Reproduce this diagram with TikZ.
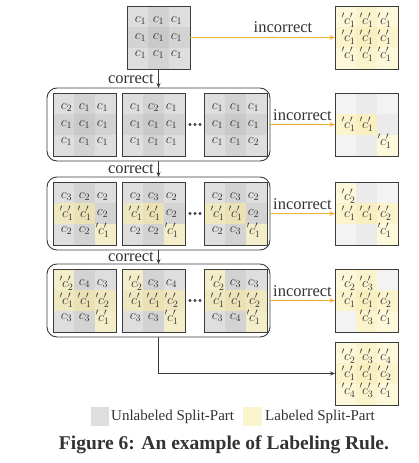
\RequirePackage{fix-cm}
\documentclass[tikz,border=0pt]{standalone}
\usepackage[no-math]{fontspec}
\setmainfont{Liberation Serif}
\usetikzlibrary{arrows.meta}
\definecolor{ga}{HTML}{D3D3D3}
\definecolor{gb}{HTML}{DEDEDE}
\definecolor{gc}{HTML}{C9C9C9}
\definecolor{yA}{HTML}{EFE7BF}
\definecolor{yB}{HTML}{F4EDCA}
\definecolor{yC}{HTML}{EAE1B5}
\definecolor{eA}{HTML}{EBEBEB}
\definecolor{eB}{HTML}{F3F3F3}
\definecolor{eC}{HTML}{E6E6E6}
\definecolor{wA}{HTML}{FBF3CC}
\definecolor{wB}{HTML}{FDF8D9}
\definecolor{wC}{HTML}{F8EEC0}
\definecolor{bordc}{HTML}{3C3C3C}
\definecolor{goldc}{HTML}{EEB22A}
\definecolor{txtc}{HTML}{333333}
% per-position colours: U unlabeled, L labeled (inner), E empty, Y labeled (result)
\colorlet{U0}{gb}\colorlet{U1}{ga}\colorlet{U2}{gb}\colorlet{U3}{ga}\colorlet{U4}{gc}\colorlet{U5}{ga}\colorlet{U6}{gb}\colorlet{U7}{ga}\colorlet{U8}{gb}
\colorlet{L0}{yB}\colorlet{L1}{yA}\colorlet{L2}{yB}\colorlet{L3}{yA}\colorlet{L4}{yC}\colorlet{L5}{yA}\colorlet{L6}{yB}\colorlet{L7}{yA}\colorlet{L8}{yB}
\colorlet{E0}{eB}\colorlet{E1}{eA}\colorlet{E2}{eB}\colorlet{E3}{eA}\colorlet{E4}{eC}\colorlet{E5}{eA}\colorlet{E6}{eB}\colorlet{E7}{eA}\colorlet{E8}{eB}
\colorlet{Y0}{wB}\colorlet{Y1}{wA}\colorlet{Y2}{wB}\colorlet{Y3}{wA}\colorlet{Y4}{wC}\colorlet{Y5}{wA}\colorlet{Y6}{wB}\colorlet{Y7}{wA}\colorlet{Y8}{wB}
\newcommand\labc[1]{{}'\mkern-1mu c'_{#1}}
\newcommand\gridbox[4]{%
  \node[boxnode] (#1) at (#2+31.5,#3+31.5) {};
  \foreach [count=\i from 0] \fl/\tx in {#4} {%
    \pgfmathtruncatemacro\rowi{\i/3}%
    \pgfmathtruncatemacro\coli{\i-3*\rowi}%
    \edef\cname{\fl\i}%
    \fill[fill=\cname] (#2+\coli*21,#3+\rowi*21) rectangle ++(21,21);
  }
  \foreach [count=\i from 0] \fl/\tx in {#4} {%
    \pgfmathtruncatemacro\rowi{\i/3}%
    \pgfmathtruncatemacro\coli{\i-3*\rowi}%
    \node[celltxt] at (#2+13.5+\coli*18,#3+14.5+\rowi*17) {$\tx$};
  }
  \draw[bd] (#1.north west) rectangle (#1.south east);
}
\begin{document}
\begin{tikzpicture}[x=1pt,y=-1pt,
  boxnode/.style={minimum size=63pt,inner sep=0pt,outer sep=0pt},
  bd/.style={draw=bordc,line width=1pt},
  grp/.style={draw=bordc,line width=0.9pt,rounded corners=10pt,inner sep=0pt,outer sep=0pt,minimum width=223pt},
  celltxt/.style={inner sep=0pt,text=txtc,font=\fontsize{14}{17}\selectfont},
  lbl/.style={inner sep=1pt,text=txtc,font=\fontsize{16.5}{19}\selectfont},
  carrow/.style={draw=bordc,line width=0.9pt,-{Stealth[length=5pt,width=4pt]}},
  iarrow/.style={draw=goldc,line width=1.5pt,-{Stealth[length=5.5pt,width=4.5pt]}}]
\useasboundingbox (0,0) rectangle (418,463);
\fill[white] (0,0) rectangle (418,463);

% groups
\node[grp,minimum height=73pt] (g1) at (158.5,124.5) {};
\node[grp,minimum height=73pt] (g2) at (158.5,213.5) {};
\node[grp,minimum height=73pt] (g3) at (158.5,300.5) {};

% top box
\gridbox{t0}{127}{6}{U/c_1,U/c_1,U/c_1,U/c_1,U/c_1,U/c_1,U/c_1,U/c_1,U/c_1}
% row 1
\gridbox{b11}{53}{93}{U/c_2,U/c_1,U/c_1,U/c_1,U/c_1,U/c_1,U/c_1,U/c_1,U/c_1}
\gridbox{b12}{122}{93}{U/c_1,U/c_2,U/c_1,U/c_1,U/c_1,U/c_1,U/c_1,U/c_1,U/c_1}
\gridbox{b13}{204}{93}{U/c_1,U/c_1,U/c_1,U/c_1,U/c_1,U/c_1,U/c_1,U/c_1,U/c_2}
% row 2
\gridbox{b21}{53}{182}{U/c_3,U/c_2,U/c_2,L/\labc1,L/\labc1,U/c_2,U/c_2,U/c_2,L/\labc1}
\gridbox{b22}{122}{182}{U/c_2,U/c_3,U/c_2,L/\labc1,L/\labc1,U/c_2,U/c_2,U/c_2,L/\labc1}
\gridbox{b23}{204}{182}{U/c_2,U/c_3,U/c_2,L/\labc1,L/\labc1,U/c_2,U/c_2,U/c_3,L/\labc1}
% row 3
\gridbox{b31}{53}{269}{L/\labc2,U/c_4,U/c_3,L/\labc1,L/\labc1,L/\labc2,U/c_3,U/c_3,L/\labc1}
\gridbox{b32}{122}{269}{L/\labc2,U/c_3,U/c_4,L/\labc1,L/\labc1,L/\labc2,U/c_3,U/c_3,L/\labc1}
\gridbox{b33}{204}{269}{L/\labc2,U/c_3,U/c_3,L/\labc1,L/\labc1,L/\labc2,U/c_3,U/c_4,L/\labc1}
% results
\gridbox{r0}{335}{6}{Y/\labc1,Y/\labc1,Y/\labc1,Y/\labc1,Y/\labc1,Y/\labc1,Y/\labc1,Y/\labc1,Y/\labc1}
\gridbox{r1}{335}{93}{E/{},E/{},E/{},Y/\labc1,Y/\labc1,E/{},E/{},E/{},Y/\labc1}
\gridbox{r2}{335}{182}{Y/\labc2,E/{},E/{},Y/\labc1,Y/\labc1,Y/\labc2,E/{},E/{},Y/\labc1}
\gridbox{r3}{335}{269}{Y/\labc2,Y/\labc3,E/{},Y/\labc1,Y/\labc1,Y/\labc2,E/{},Y/\labc3,Y/\labc1}
\gridbox{rf}{335}{342}{Y/\labc2,Y/\labc3,Y/\labc4,Y/\labc1,Y/\labc1,Y/\labc2,Y/\labc4,Y/\labc3,Y/\labc1}

% dots
\foreach \yy in {124.5,213.5,300.5}{
  \foreach \xx in {190,195,200}{
    \fill[bordc] (\xx,\yy) circle (1.7pt);
  }
}

% correct arrows
\draw[carrow] (t0.south) -- (g1.north);
\draw[carrow] (g1.south) -- (g2.north);
\draw[carrow] (g2.south) -- (g3.north);
\draw[carrow] (g3.south) |- (rf.west);
\node[lbl,anchor=east] (c1) at (155,78.5) {correct};
\node[lbl,anchor=east] (c2) at (155,169) {correct};
\node[lbl,anchor=east] (c3) at (155,257) {correct};

% incorrect arrows
\draw[iarrow] (t0.east) -- (r0.west);
\draw[iarrow] (g1.east) -- (r1.west);
\draw[iarrow] (g2.east) -- (r2.west);
\draw[iarrow] (g3.east) -- (r3.west);
\node[lbl,anchor=south] (i0) at (283,34) {incorrect};
\node[lbl,anchor=south] (i1) at (302.5,122) {incorrect};
\node[lbl,anchor=south] (i2) at (302.5,211) {incorrect};
\node[lbl,anchor=south] (i3) at (302.5,298) {incorrect};

% legend
\fill[gb] (91,407) rectangle (109,426);
\node[anchor=west,inner sep=0pt,text=txtc,font=\fontsize{15}{18}\selectfont] (lg1) at (111,416.5) {Unlabeled Split-Part};
\fill[wA] (243,407) rectangle (262,426);
\node[anchor=west,inner sep=0pt,text=txtc,font=\fontsize{15}{18}\selectfont] (lg2) at (265,416.5) {Labeled Split-Part};

% caption
\node[inner sep=0pt,text=txtc,font=\fontsize{19.5}{23}\selectfont\bfseries] (cap) at (224,445) {Figure 6: An example of Labeling Rule.};
\end{tikzpicture}
\end{document}
